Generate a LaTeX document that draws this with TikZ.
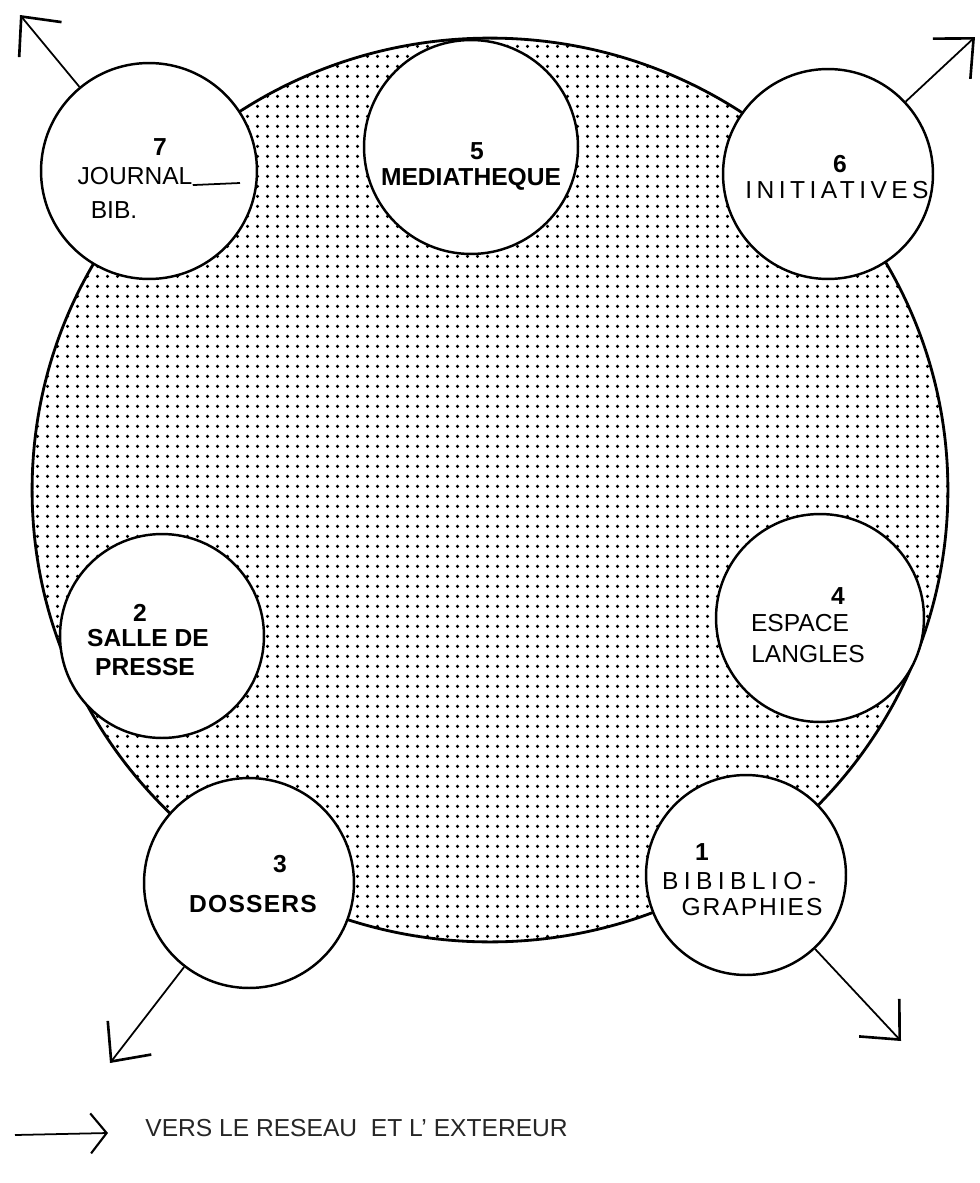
\documentclass[tikz,border=0pt]{standalone}
\usepackage{fontspec}
\setmainfont{Liberation Sans}
\usetikzlibrary{arrows.meta,patterns.meta}
\begin{document}
\begin{tikzpicture}[x=0.02cm,y=-0.02cm,
  room/.style={circle, draw=black, line width=1.4pt, fill=white, inner sep=0pt},
  lbl/.style={inner sep=0pt, font=\fontsize{14}{16}\selectfont},
  blbl/.style={inner sep=0pt, font=\fontsize{14}{16}\selectfont\bfseries},
  num/.style={inner sep=0pt, font=\fontsize{14}{16}\selectfont\bfseries},
  outarrow/.style={line width=1pt, -{Straight Barb[length=0.6cm,width=1.1cm,line width=1.5pt]}},
]
\useasboundingbox (0,0) rectangle (980,1183);
\fill[white] (0,0) rectangle (980,1183);
% shaded central area
\path[pattern={Dots[distance=5.4pt,radius=1.05pt]}, draw=black, line width=1.6pt]
  (490,490) ellipse [x radius=9.16cm, y radius=9.04cm];

% rooms
\node[room, minimum size=4.32cm] (c7) at (149,171) {};
\node[room, minimum size=4.28cm] (c5) at (471,147) {};
\node[room, minimum size=4.2cm]  (c6) at (828,174) {};
\node[room, minimum size=4.08cm] (c2) at (162,636) {};
\node[room, minimum size=4.16cm] (c4) at (820,618) {};
\node[room, minimum size=4.2cm]  (c3) at (249,883) {};
\node[room, minimum size=4.0cm]  (c1) at (746,875) {};

% labels
\node[num] (n7) at (160,147) {7};
\node[lbl] (t7a) at (135,176) {JOURNAL};
\node[lbl] (t7b) at (114,210) {BIB.};
\coordinate (jl) at (240,183);
\draw[line width=1pt] (t7a.south east) -- (jl);

\node[num] (n5) at (477,151) {5};
\node[blbl] (t5) at (471,179) {MEDIATHEQUE};

\node[num] (n6) at (840,164) {6};
\node[lbl, font=\fontsize{14}{16}\selectfont\addfontfeature{LetterSpace=18}] (t6) at (837,190) {INITIATIVES};

\node[num] (n2) at (140,613) {2};
\node[blbl] (t2a) at (148,638) {SALLE DE};
\node[blbl] (t2b) at (145,667) {PRESSE};

\node[num] (n4) at (838,596) {4};
\node[lbl] (t4a) at (800,623) {ESPACE};
\node[lbl] (t4b) at (808,654) {LANGLES};

\node[num] (n3) at (280,864) {3};
\node[blbl, font=\fontsize{14}{16}\selectfont\bfseries\addfontfeature{LetterSpace=5}] (t3) at (253,904) {DOSSERS};

\node[num] (n1) at (702,852) {1};
\node[lbl, font=\fontsize{14}{16}\selectfont\addfontfeature{LetterSpace=22}] (t1a) at (739,881) {BIBIBLIO-};
\node[lbl, font=\fontsize{14}{16}\selectfont\addfontfeature{LetterSpace=8}] (t1b) at (752,907) {GRAPHIES};

% outward arrows
\coordinate (a7) at (20,15);
\coordinate (a6) at (975,37);
\coordinate (a3) at (110,1063);
\coordinate (a1) at (901,1041);
\draw[outarrow] (c7) -- (a7);
\draw[outarrow] (c6) -- (a6);
\draw[outarrow] (c3) -- (a3);
\draw[outarrow] (c1) -- (a1);

% legend
\coordinate (la) at (15,1135);
\coordinate (lb) at (108,1133);
\draw[line width=1pt, -{Straight Barb[length=0.32cm,width=0.8cm,line width=1.2pt]}] (la) -- (lb);
\node[lbl, anchor=west, text=black!85] (leg) at (145,1128) {VERS LE RESEAU\ \ ET L' EXTEREUR};
\end{tikzpicture}
\end{document}
